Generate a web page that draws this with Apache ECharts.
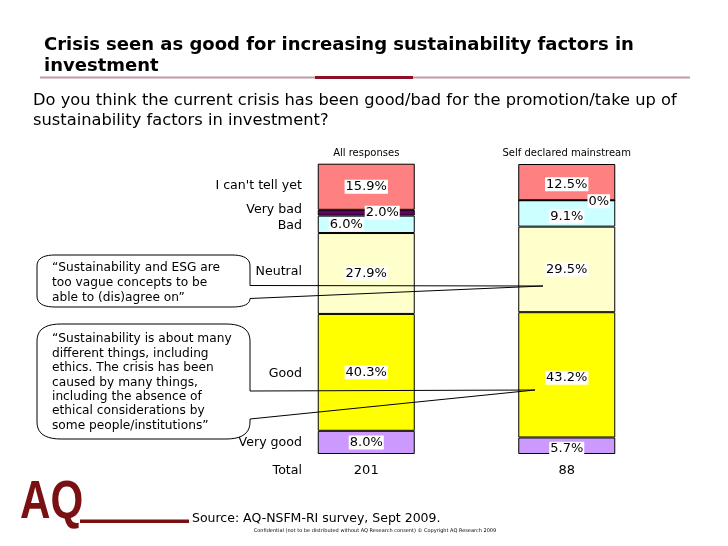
<!DOCTYPE html>
<html><head><meta charset="utf-8">
<script src="https://cdn.jsdelivr.net/npm/echarts@6/dist/echarts.min.js"></script>
<style>html,body{margin:0;padding:0;background:#fff;}#c{width:728px;height:546px;}</style>
</head><body><div id="c"></div>
<script>
// ---- data ----
const groups = ['All responses', 'Self declared mainstream'];
const totals = ['201', '88'];
const answers = ['Very good', 'Good', 'Neutral', 'Bad', 'Very bad', "I can't tell yet"];
const veryGood = [8.0, 5.7];
const good = [40.3, 43.2];
const neutral = [27.9, 29.5];
const bad = [6.0, 9.1];
const veryBad = [2.0, 0];
const cantTell = [15.9, 12.5];
const quote1 = ['\u201cSustainability and ESG are', 'too vague concepts to be', 'able to (dis)agree on\u201d'];
const quote2 = ['\u201cSustainability is about many', 'different things, including', 'ethics. The crisis has been',
  'caused by many things,', 'including the absence of', 'ethical considerations by', 'some people/institutions\u201d'];

// ---- styling ----
const values = [veryGood, good, neutral, bad, veryBad, cantTell];
const colors = ['#CC99FF', '#FFFF00', '#FFFFCC', '#CCFFFF', '#660066', '#FF8080'];
const labelOffsets = [
  [[0, 0], [0, 3]],
  [[0, 0], [0, 3]],
  [[0, 0], [0, 0]],
  [[-20, 0], [0, 3]],
  [[16, 0], [32, 1]],
  [[0, 0], [0, 2]]
];
const nameAdjust = [0, 1, -2, 1, -3, -1];
const FONT = 'DejaVu Sans';

const chart = echarts.init(document.getElementById('c'), null, {renderer: 'canvas'});
const series = answers.map((name, si) => ({
  name: name,
  type: 'bar',
  stack: 'all',
  barWidth: 97,
  data: values[si].map((v, i) => ({
    value: v,
    label: {offset: labelOffsets[si][i]}
  })),
  itemStyle: {color: colors[si], borderColor: '#000', borderWidth: 1},
  label: {
    show: true, position: 'inside', color: '#000', fontFamily: FONT, fontSize: 13,
    backgroundColor: '#fff', padding: [1, 1, 0, 1],
    formatter: p => (p.value === 0 ? '0%' : p.value.toFixed(1) + '%')
  },
  emphasis: {disabled: true}
}));

chart.setOption({
  animation: false,
  backgroundColor: '#fff',
  grid: {left: 266, right: 61, top: 164, bottom: 92},
  xAxis: [
    {type: 'category', data: groups, position: 'top', axisLine: {show: false}, axisTick: {show: false},
     axisLabel: {fontFamily: FONT, fontSize: 10, color: '#000', margin: 6}},
    {type: 'category', data: totals, position: 'bottom', axisLine: {show: false}, axisTick: {show: false},
     axisLabel: {fontFamily: FONT, fontSize: 13, color: '#000', margin: 10}}
  ],
  yAxis: {type: 'value', min: 0, max: 100, show: false},
  series: series
});

// category names at left of first bar, centred on segments
const graphics = [];
let cum = 0;
answers.forEach((name, si) => {
  const v = values[si][0];
  const mid = cum + v / 2;
  cum += v;
  const pt = chart.convertToPixel({xAxisIndex: 0, yAxisIndex: 0}, [0, mid]);
  graphics.push({type: 'text', x: 302, y: pt[1] + nameAdjust[si],
    style: {text: name, fontFamily: FONT, fontSize: 12.6, fill: '#000', align: 'right', verticalAlign: 'middle'}});
});
const bottomPt = chart.convertToPixel({xAxisIndex: 0, yAxisIndex: 0}, [0, 0]);
graphics.push({type: 'text', x: 302, y: bottomPt[1] + 17,
  style: {text: 'Total', fontFamily: FONT, fontSize: 12.6, fill: '#000', align: 'right', verticalAlign: 'middle'}});

// title
graphics.push({type: 'text', x: 44, y: 35,
  style: {text: 'Crisis seen as good for increasing sustainability factors in\ninvestment', fontFamily: FONT,
    fontWeight: 'bold', fontSize: 18, lineHeight: 21, fill: '#000'}});
graphics.push({type: 'line', shape: {x1: 40, y1: 77.5, x2: 690, y2: 77.5}, style: {stroke: '#C49AA4', lineWidth: 2}});
graphics.push({type: 'line', shape: {x1: 315, y1: 77.5, x2: 413, y2: 77.5}, style: {stroke: '#8B1028', lineWidth: 3}});
graphics.push({type: 'text', x: 33, y: 91,
  style: {text: 'Do you think the current crisis has been good/bad for the promotion/take up of\nsustainability factors in investment?',
    fontFamily: FONT, fontSize: 16.3, lineHeight: 20, fill: '#000'}});

// callouts (outline sampled into a polyline)
function quad(p0, c, p1, out) {
  for (let k = 1; k <= 10; k++) {
    const t = k / 10, u = 1 - t;
    out.push([u * u * p0[0] + 2 * u * t * c[0] + t * t * p1[0], u * u * p0[1] + 2 * u * t * c[1] + t * t * p1[1]]);
  }
}
function callout(L, T, R, B, rx, ry, tailTop, tailBot, tip) {
  const pts = [[L + rx, T], [R - rx, T]];
  quad([R - rx, T], [R, T], [R, T + ry], pts);
  pts.push([R, tailTop], tip, [R, tailBot]);
  const by = Math.max(tailBot, B - ry);
  pts.push([R, by]);
  quad([R, by], [R, B], [R - rx, B], pts);
  pts.push([L + rx, B]);
  quad([L + rx, B], [L, B], [L, B - ry], pts);
  pts.push([L, T + ry]);
  quad([L, T + ry], [L, T], [L + rx, T], pts);
  return pts;
}
graphics.push({type: 'polyline', z: 100, shape: {points: callout(37, 255, 250, 307, 18, 11, 285.5, 298.5, [543, 286])},
  style: {fill: null, stroke: '#000', lineWidth: 1}});
graphics.push({type: 'polyline', z: 100, shape: {points: callout(37, 324, 250, 439, 24, 17, 391, 419, [535, 390])},
  style: {fill: null, stroke: '#000', lineWidth: 1}});
graphics.push({type: 'text', x: 52, y: 260, z: 101,
  style: {text: quote1.join('\n'), fontFamily: FONT, fontSize: 12.2, lineHeight: 15, fill: '#000'}});
graphics.push({type: 'text', x: 52, y: 332, z: 101,
  style: {text: quote2.join('\n'), fontFamily: FONT, fontSize: 12.2, lineHeight: 14.4, fill: '#000'}});

// footer
graphics.push({type: 'text', x: 20, y: 503, scaleX: 0.78,
  style: {text: 'AQ', fontFamily: 'Liberation Sans', fontWeight: 'bold', fontSize: 54, fill: '#7A1012',
    verticalAlign: 'middle'}});
graphics.push({type: 'rect', shape: {x: 80, y: 519.5, width: 109, height: 3.5}, style: {fill: '#7A1012'}});
graphics.push({type: 'text', x: 192, y: 519,
  style: {text: 'Source: AQ-NSFM-RI survey, Sept 2009.', fontFamily: FONT, fontSize: 12.5, fill: '#000', verticalAlign: 'middle'}});
graphics.push({type: 'text', x: 375, y: 531,
  style: {text: 'Confidential (not to be distributed without AQ Research consent) \u00a9 Copyright AQ Research 2009',
    fontFamily: FONT, fontSize: 5, fill: '#000', align: 'center', verticalAlign: 'middle'}});

chart.setOption({graphic: graphics});
</script></body></html>
